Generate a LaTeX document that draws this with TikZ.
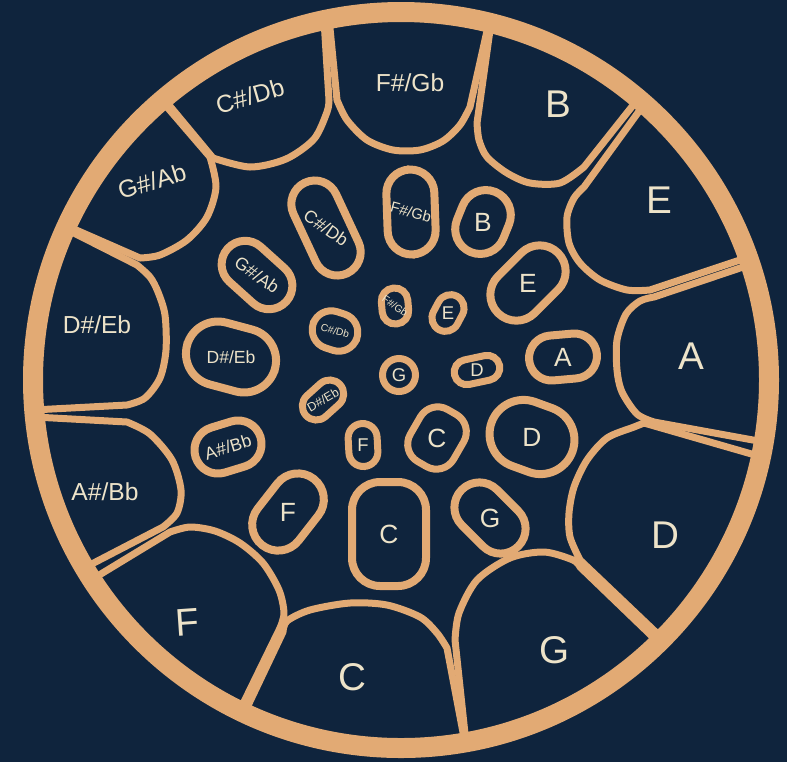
\documentclass[tikz,border=0pt]{standalone}
\usepackage{fontspec}
\setmainfont{Liberation Sans}
\definecolor{navy}{HTML}{0F243D}
\definecolor{copper}{HTML}{E2AA74}
\definecolor{cream}{HTML}{EDE3C9}

\begin{document}
\begin{tikzpicture}[x=0.02cm, y=0.02cm,
	seg/.style={draw=copper, line width=0.14cm, line join=round},
	pad/.style n args={3}{draw=copper, line width=0.16cm, inner sep=0pt, text=cream,
		minimum width=#1*0.02cm, minimum height=#2*0.02cm, rounded corners=#3*0.02cm},
	ipad/.style n args={3}{pad={#1}{#2}{#3}, line width=0.14cm},
	big/.style={text=cream, font=\fontsize{22}{24}\selectfont},
	outer/.style={text=cream, font=\fontsize{14}{16}\selectfont},
	padbig/.style={font=\fontsize{15}{16}\selectfont},
	padmid/.style={font=\fontsize{10}{11}\selectfont},
	padsmall/.style={font=\fontsize{10.5}{11}\selectfont},
	padtiny/.style={font=\fontsize{5.8}{6}\selectfont}]

	\fill[navy] (0,0) rectangle (787,-762);

	% outer ring of tone fields
	\draw[seg] (324,-20) -- plot[smooth] coordinates {(329,-100) (327,-112) (314,-139) (286,-159) (250,-167) (213,-158)} -- (164,-99);
	\draw[seg] (329,-18) -- plot[smooth] coordinates {(337,-100) (347,-120) (367,-140) (393,-150) (420,-150) (443,-141) (460,-125) (470,-107)} -- (489,-22);
	\draw[seg] (491,-23) -- plot[smooth] coordinates {(477,-123) (479,-140) (487,-157) (507,-173) (530,-183) (560,-183) (584,-167)} -- (638,-99);
	\draw[seg] (645,-103) -- plot[smooth] coordinates {(584,-187) (574,-198) (567,-217) (569,-243) (580,-263) (600,-280) (627,-290) (650,-290)} -- (749,-257);
	\draw[seg] (752,-264) -- plot[smooth] coordinates {(654,-297) (640,-301) (626,-314) (617,-340) (617,-370) (622,-392) (637,-414) (654,-422)} -- (764,-442);
	\draw[seg] (762,-457) -- plot[smooth] coordinates {(644,-423) (634,-427) (607,-438) (587,-460) (574,-487) (569,-513) (570,-537) (580,-560)} -- (663,-639);
	\draw[seg] (659,-643) -- plot[smooth] coordinates {(580,-567) (573,-560) (544,-552) (510,-558) (477,-580) (459,-613) (455,-640)} -- (466,-743);
	\draw[seg] (465,-743) -- plot[smooth] coordinates {(447,-648) (437,-633) (420,-617) (387,-605) (350,-603) (310,-610) (287,-621) (283,-632)} -- (244,-714);
	\draw[seg] (239,-712) -- plot[smooth] coordinates {(280,-628) (284,-613) (279,-590) (263,-563) (240,-543) (215,-531) (190,-527) (170,-532)} -- (91,-580);
	\draw[seg] (84,-568) -- plot[smooth] coordinates {(163,-527) (177,-513) (181,-490) (172,-460) (150,-434) (127,-422)} -- (35,-417);
	\draw[seg] (33,-410) -- plot[smooth] coordinates {(127,-405) (145,-398) (160,-378) (166,-350) (165,-315) (158,-292) (150,-277) (137,-265)} -- (64,-228);
	\draw[seg] (67,-226) -- plot[smooth] coordinates {(140,-258) (160,-255) (187,-240) (207,-217) (216,-187) (210,-157)} -- (161,-100);

	\draw[copper, line width=0.4cm] (401,-380) circle (368);

	% middle ring
	\node[pad={85}{48}{24}, rotate=92, padmid, font=\fontsize{8.5}{9}\selectfont] (mFs) at (411,-212) {\rotatebox{-107}{F\#/Gb}};
	\node[pad={65}{50}{25}, rotate=68, padbig] (mB) at (483,-222) {\rotatebox{-68}{B}};
	\node[pad={85}{52}{26}, rotate=45, padbig] (mE) at (528,-283) {\rotatebox{-45}{E}};
	\node[pad={68}{45}{22.5}, rotate=5, padbig] (mA) at (563,-357) {\rotatebox{-5}{A}};
	\node[pad={86}{68}{34}, rotate=-20, padbig] (mD) at (532,-437) {\rotatebox{20}{D}};
	\node[pad={80}{50}{25}, rotate=-45, padbig] (mG) at (490,-518) {\rotatebox{45}{G}};
	\node[pad={74}{104}{28}, padbig] (mC) at (389,-534) {C};
	\node[pad={84}{52}{26}, rotate=52, padbig] (mF) at (288,-512) {\rotatebox{-52}{F}};
	\node[pad={68}{47}{23.5}, rotate=17, padmid] (mAs) at (228,-447) {A\#/Bb};
	\node[pad={91}{64}{32}, rotate=-15, padmid] (mDs) at (231,-357) {\rotatebox{15}{D\#/Eb}};
	\node[pad={79}{47}{23.5}, rotate=-42, padmid] (mGs) at (257,-275) {\rotatebox{7}{G\#/Ab}};
	\node[pad={100}{47}{23.5}, rotate=-65, padmid] (mCs) at (326,-228) {\rotatebox{30}{C\#/Db}};

	% inner ring
	\node[ipad={33}{33}{16.5}, padsmall] (iG) at (399,-375) {G};
	\node[ipad={46}{25}{12.5}, rotate=12, padsmall] (iD) at (477,-370) {\rotatebox{-12}{D}};
	\node[ipad={38}{27}{13.5}, rotate=62, padsmall] (iE) at (448,-313) {\rotatebox{-62}{E}};
	\node[ipad={36}{26}{13}, rotate=95, padtiny] (iFs) at (395,-306) {\rotatebox{-130}{F\#/Gb}};
	\node[ipad={46}{38}{19}, rotate=-18, padtiny] (iCs) at (335,-331) {\rotatebox{3}{C\#/Db}};
	\node[ipad={46}{28}{14}, rotate=42, padtiny, font=\fontsize{7}{7}\selectfont] (iDs) at (323,-400) {\rotatebox{-12}{D\#/Eb}};
	\node[ipad={43}{29}{14.5}, rotate=93, padsmall] (iF) at (363,-445) {\rotatebox{-93}{F}};
	\node[ipad={50}{60}{20}, rotate=-30, padbig] (iC) at (437,-438) {\rotatebox{30}{C}};

	% outer labels
	\node[outer] (oFs) at (410,-83) {F\#/Gb};
	\node[big] (oB) at (558,-104) {B};
	\node[big] (oE) at (659,-200) {E};
	\node[big] (oA) at (691,-356) {A};
	\node[big] (oD) at (665,-535) {D};
	\node[big] (oG) at (555,-650) {G};
	\node[big] (oC) at (352,-677) {C};
	\node[big, rotate=4] (oF) at (187,-622) {F};
	\node[outer] (oAs) at (105,-492) {A\#/Bb};
	\node[outer] (oDs) at (97,-325) {D\#/Eb};
	\node[outer, rotate=17] (oGs) at (152,-181) {G\#/Ab};
	\node[outer, rotate=16] (oCs) at (250,-96) {C\#/Db};
\end{tikzpicture}
\end{document}
